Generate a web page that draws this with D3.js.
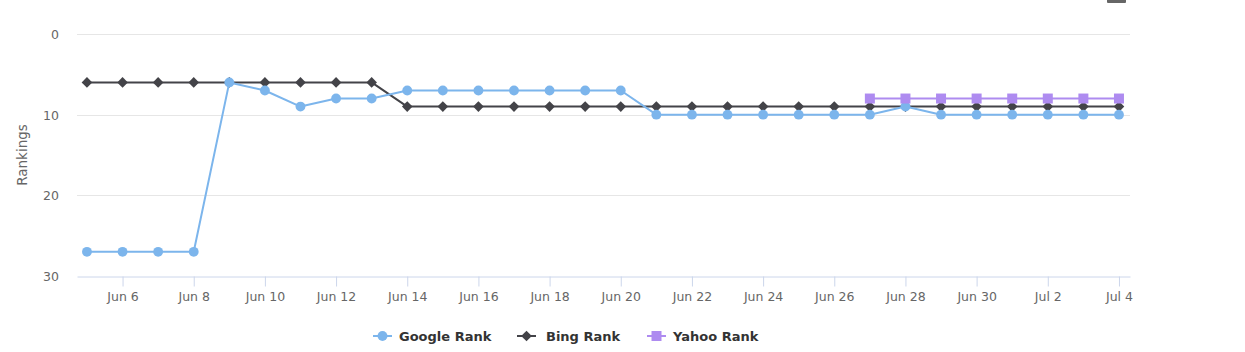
<!DOCTYPE html>
<html>
<head>
<meta charset="utf-8">
<script src="https://cdn.jsdelivr.net/npm/d3@7"></script>
<style>
  body { margin: 0; background: #fff; }
  svg { display: block; font-family: "DejaVu Sans", sans-serif; }
</style>
</head>
<body>
<div id="chart"></div>
<script>
// rank history, one value per day (Jun 5 - Jul 4)
const dates = ["2020-06-05","2020-06-06","2020-06-07","2020-06-08","2020-06-09","2020-06-10",
  "2020-06-11","2020-06-12","2020-06-13","2020-06-14","2020-06-15","2020-06-16","2020-06-17",
  "2020-06-18","2020-06-19","2020-06-20","2020-06-21","2020-06-22","2020-06-23","2020-06-24",
  "2020-06-25","2020-06-26","2020-06-27","2020-06-28","2020-06-29","2020-06-30","2020-07-01",
  "2020-07-02","2020-07-03","2020-07-04"];
const google = [27,27,27,27,6,7,9,8,8,7,7,7,7,7,7,7,10,10,10,10,10,10,10,9,10,10,10,10,10,10];
const bing   = [6,6,6,6,6,6,6,6,6,9,9,9,9,9,9,9,9,9,9,9,9,9,9,9,9,9,9,9,9,9];
const yahoo  = [null,null,null,null,null,null,null,null,null,null,null,null,null,null,null,
  null,null,null,null,null,null,null,8,8,8,8,8,8,8,8];
const yTicks = [0,10,20,30];
const xTicks = ["2020-06-06","2020-06-08","2020-06-10","2020-06-12","2020-06-14","2020-06-16",
  "2020-06-18","2020-06-20","2020-06-22","2020-06-24","2020-06-26","2020-06-28","2020-06-30",
  "2020-07-02","2020-07-04"];

const width = 1245, height = 352;
const plotLeft = 77, plotRight = 1130, plotTop = 34, plotBottom = 276;
const parse = d3.utcParse("%Y-%m-%d");
const day = 864e5;

const svg = d3.select("#chart").append("svg")
  .attr("width", width).attr("height", height);

const x = d3.scaleUtc()
  .domain([+parse(dates[0]) - 0.28 * day, +parse(dates[dates.length - 1]) + 0.31 * day])
  .range([plotLeft, plotRight]);
const y = d3.scaleLinear().domain([0, 30]).range([plotTop, plotBottom]);

// export menu button, mostly out of view
svg.append("rect").attr("x", 1107).attr("y", -6).attr("width", 19).attr("height", 9)
  .attr("rx", 1).attr("fill", "#666");

// grid
svg.append("g").selectAll("line").data(yTicks.slice(0, -1)).join("line")
  .attr("x1", plotLeft).attr("x2", plotRight)
  .attr("y1", d => Math.round(y(d)) + 0.5).attr("y2", d => Math.round(y(d)) + 0.5)
  .attr("stroke", "#e6e6e6");

// y axis labels
const yAxis = svg.append("g").attr("transform", `translate(${plotLeft - 18},0)`)
  .call(d3.axisLeft(y).tickValues(yTicks).tickSize(0).tickPadding(0));
yAxis.select(".domain").remove();
yAxis.selectAll("text").attr("font-size", 12.5).attr("fill", "#666")
  .attr("font-family", "DejaVu Sans").attr("dy", "0.35em");

svg.append("text")
  .attr("transform", `translate(27,${(plotTop + plotBottom) / 2}) rotate(-90)`)
  .attr("text-anchor", "middle").attr("font-size", 13.5).attr("fill", "#666")
  .text("Rankings");

// x axis
const xAxis = svg.append("g").attr("transform", `translate(0,${Math.round(y(30)) + 0.5})`)
  .call(d3.axisBottom(x).tickValues(xTicks.map(parse)).tickFormat(d3.utcFormat("%b %-d"))
    .tickSizeOuter(0).tickSizeInner(10).tickPadding(6));
xAxis.select(".domain").attr("stroke", "#ccd6eb");
xAxis.selectAll(".tick line").attr("stroke", "#ccd6eb");
xAxis.selectAll("text").attr("font-size", 12.5).attr("fill", "#666")
  .attr("font-family", "DejaVu Sans");

const series = [
  { name: "Google Rank", values: google, color: "#7cb5ec", marker: "circle" },
  { name: "Bing Rank", values: bing, color: "#434348", marker: "diamond" },
  { name: "Yahoo Rank", values: yahoo, color: "#ae8bf0", marker: "square" }
];

const symbolFor = m => m === "circle" ? d3.symbol(d3.symbolCircle, 76)
  : m === "diamond" ? d3.symbol(d3.symbolDiamond2, 72)
  : d3.symbol(d3.symbolSquare, 100);

const line = d3.line().defined(d => d.v != null).x(d => x(d.date)).y(d => y(d.v));

// google sits on top of bing where they meet
const drawOrder = [series[1], series[0], series[2]];
drawOrder.forEach(s => {
  const pts = dates.map((d, i) => ({ date: parse(d), v: s.values[i] }));
  const g = svg.append("g");
  g.append("path").datum(pts).attr("d", line)
    .attr("fill", "none").attr("stroke", s.color).attr("stroke-width", 2)
    .attr("stroke-linejoin", "round");
  g.selectAll("path.pt").data(pts.filter(p => p.v != null)).join("path")
    .attr("class", "pt")
    .attr("transform", p => `translate(${x(p.date)},${y(p.v)})`)
    .attr("d", symbolFor(s.marker)()).attr("fill", s.color);
});

// legend
const legendX = [373, 517, 647];
const legend = svg.append("g").selectAll("g").data(series).join("g")
  .attr("transform", (d, i) => `translate(${legendX[i]},336)`);
legend.append("line").attr("x1", 0).attr("x2", 19)
  .attr("stroke", d => d.color).attr("stroke-width", 2);
legend.append("path").attr("transform", "translate(9.5,0)")
  .attr("d", d => symbolFor(d.marker)()).attr("fill", d => d.color);
legend.append("text").attr("x", (d, i) => i === 1 ? 29 : 26).attr("dy", "0.35em")
  .attr("font-size", 13).attr("font-weight", "bold").attr("fill", "#333")
  .text(d => d.name);
</script>
</body>
</html>
